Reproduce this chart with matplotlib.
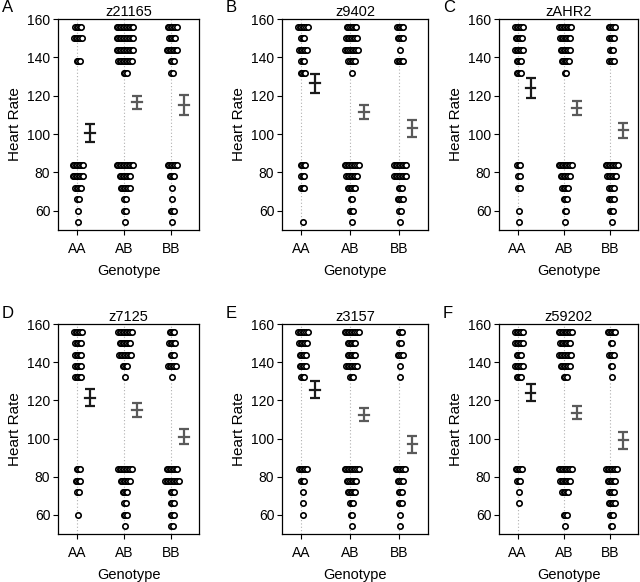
import numpy as np
import matplotlib
matplotlib.use('Agg')
import matplotlib.pyplot as plt

plt.rcParams['font.family'] = ['Liberation Sans', 'DejaVu Sans']

# Heart-rate levels (beats are binned in steps of 6)
levels = [54, 60, 66, 72, 78, 84, 132, 138, 144, 150, 156]
genotypes = ['AA', 'AB', 'BB']

panel_letters = ['A', 'B', 'C', 'D', 'E', 'F']
markers = ['z21165', 'z9402', 'zAHR2', 'z7125', 'z3157', 'z59202']

# number of fish at each level, one list per genotype (order of `levels`)
counts_z21165 = [[1, 1, 2, 5, 8, 8, 0, 3, 0, 6, 5],
                 [1, 2, 2, 7, 8, 12, 3, 10, 12, 12, 12],
                 [1, 3, 1, 1, 4, 7, 2, 3, 8, 5, 7]]
counts_z9402 = [[1, 0, 0, 3, 3, 4, 4, 3, 6, 3, 7],
                [1, 3, 2, 6, 8, 10, 1, 5, 9, 8, 7],
                [1, 2, 4, 3, 9, 9, 0, 5, 1, 4, 5]]
counts_zAHR2 = [[1, 1, 0, 2, 2, 3, 4, 4, 6, 5, 6],
                [1, 2, 3, 5, 7, 10, 2, 6, 7, 8, 9],
                [1, 3, 4, 4, 7, 9, 0, 4, 3, 4, 5]]
counts_z7125 = [[0, 1, 0, 2, 4, 3, 5, 5, 5, 5, 6],
                [1, 3, 2, 4, 7, 10, 1, 4, 9, 8, 10],
                [2, 3, 3, 3, 10, 8, 1, 6, 3, 5, 4]]
counts_z3157 = [[0, 1, 1, 1, 3, 6, 3, 5, 5, 6, 7],
                [1, 2, 3, 6, 7, 10, 3, 8, 6, 6, 10],
                [1, 1, 3, 3, 4, 7, 1, 1, 4, 2, 3]]
counts_z59202 = [[0, 0, 1, 1, 3, 5, 4, 6, 4, 6, 6],
                 [1, 3, 0, 5, 8, 10, 3, 7, 9, 8, 10],
                 [2, 3, 5, 4, 6, 8, 1, 2, 4, 2, 6]]
all_counts = [counts_z21165, counts_z9402, counts_zAHR2,
              counts_z7125, counts_z3157, counts_z59202]

# mean and standard error per genotype
means = [[100.5, 116.5, 115.0],
         [126.5, 111.5, 103.0],
         [124.0, 113.5, 102.0],
         [121.5, 115.0, 101.0],
         [125.5, 112.5, 97.0],
         [124.0, 113.5, 99.0]]
sems = [[4.7, 3.3, 5.2],
        [5.0, 3.5, 4.5],
        [5.0, 3.5, 4.0],
        [4.5, 3.5, 4.0],
        [4.5, 3.5, 4.5],
        [4.5, 3.5, 4.5]]

W, H = 640, 582
fig = plt.figure(figsize=(W / 100, H / 100), dpi=100)

# axes boxes in pixels: (left, right, top, bottom)
col_lr = [(58, 199), (282, 428), (499, 638)]
row_tb = [(19, 230), (324, 534)]

bar_colors = ['#1a1a1a', '#5a5a5a', '#5a5a5a']

for k in range(6):
    r, c = divmod(k, 3)
    l, rr = col_lr[c]
    t, b = row_tb[r]
    ax = fig.add_axes([l / W, (H - b) / H, (rr - l) / W, (b - t) / H])

    for g in range(3):
        ax.axvline(g, color='#b0b0b0', lw=0.8, ls=(0, (1, 2)), zorder=0)
        xs, ys = [], []
        for lev, n in zip(levels, all_counts[k][g]):
            if n == 0:
                continue
            half = 0.032 * (n - 1) / 2
            off = np.linspace(-half, half, n) + 0.03
            xs.extend(g + off)
            ys.extend([lev] * n)
        ax.scatter(xs, ys, s=15, facecolors='white', edgecolors='black',
                   linewidths=1.2, zorder=2)
        ax.errorbar(g + 0.28, means[k][g], yerr=sems[k][g], fmt='none',
                    ecolor=bar_colors[g], elinewidth=1.6, capsize=3.5,
                    capthick=1.6, zorder=3)
        ax.plot([g + 0.28 - 0.1, g + 0.28 + 0.1], [means[k][g]] * 2,
                color=bar_colors[g], lw=1.6, zorder=3)

    ax.set_xlim(-0.4, 2.6)
    ax.set_ylim(50, 160)
    ax.set_xticks(range(3))
    ax.set_xticklabels(genotypes)
    ax.set_yticks(range(60, 161, 20))
    ax.tick_params(labelsize=10, length=3.5, width=0.8, pad=2)
    ax.tick_params(axis='x', pad=5)
    for sp in ax.spines.values():
        sp.set_linewidth(0.9)
    ax.set_xlabel('Genotype', fontsize=10.5, labelpad=6)
    ax.set_ylabel('Heart Rate', fontsize=11, labelpad=4)
    ax.set_title(markers[k], fontsize=10.5, pad=2)
    fig.text((l - 56) / W, 1 - (t - 11) / H, panel_letters[k], fontsize=12,
             ha='left', va='center')

fig.savefig('out.png', dpi=100)
